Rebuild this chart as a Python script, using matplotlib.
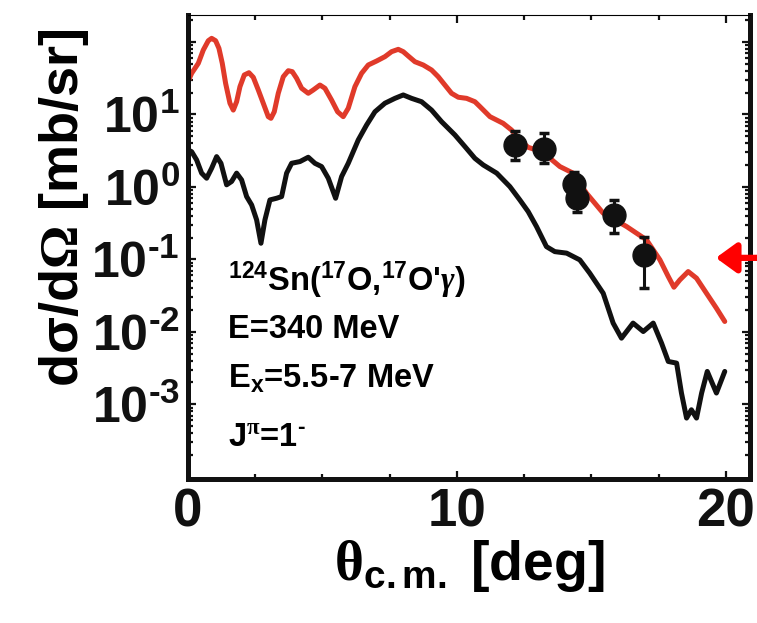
import numpy as np
import matplotlib
matplotlib.use("Agg")
import matplotlib.pyplot as plt
from matplotlib.ticker import LogLocator, FixedLocator, NullFormatter

plt.rcParams['font.family'] = ['Liberation Sans', 'DejaVu Sans']
plt.rcParams['font.weight'] = 'bold'
plt.rcParams['mathtext.fontset'] = 'custom'
plt.rcParams['mathtext.rm'] = 'Liberation Serif'
plt.rcParams['mathtext.it'] = 'Liberation Serif:italic'
plt.rcParams['mathtext.bf'] = 'Liberation Sans:bold'
plt.rcParams['mathtext.sf'] = 'Liberation Sans:bold'
plt.rcParams['mathtext.default'] = 'bf'

# full calculation (red)
theta_red = [0.0, 0.136, 0.384, 0.570, 0.756, 0.880, 1.029, 1.152, 1.276, 1.400, 1.561,
             1.685, 1.809, 1.933, 2.094, 2.268, 2.429, 2.615, 2.800, 2.986, 3.086,
             3.209, 3.358, 3.544, 3.730, 3.879, 4.040, 4.226, 4.473, 4.659, 4.907,
             5.093, 5.341, 5.564, 5.774, 5.960, 6.208, 6.456, 6.704, 7.014, 7.323,
             7.571, 7.819, 8.005, 8.191, 8.439, 8.748, 9.058, 9.306, 9.554, 9.802,
             10.05, 10.36, 10.67, 10.86, 11.23, 11.72, 12.03, 12.34, 12.65, 12.96,
             13.39, 13.83, 14.32, 14.82, 15.44, 16.31, 17.05, 17.55, 17.86, 18.07,
             18.29, 18.60, 18.91, 19.28, 19.65, 19.96]
xs_red = [28.3, 37.0, 50.8, 77.6, 104.2, 112.5, 104.2, 81.9, 50.8, 26.9, 14.3,
          11.5, 15.0, 24.2, 35.1, 37.7, 32.6, 21.8, 14.3, 9.33, 8.85,
          10.9, 19.6, 33.2, 40.2, 39.0, 31.6, 23.0, 19.6, 21.8, 25.5,
          23.0, 15.8, 10.9, 9.33, 12.2, 24.2, 37.0, 48.2, 54.7, 62.8,
          73.6, 79.3, 73.6, 64.1, 53.5, 48.2, 41.1, 33.2, 25.5, 19.6,
          17.3, 16.7, 15.0, 12.8, 9.33, 7.55, 6.11, 4.45, 3.52, 3.24,
          2.62, 1.91, 1.55, 0.818, 0.434, 0.284, 0.186, 0.0984, 0.0579, 0.0413,
          0.0521, 0.0679, 0.0550, 0.0341, 0.0212, 0.0139]

# direct excitation only (black)
theta_blk = [0.0, 0.136, 0.322, 0.508, 0.694, 0.880, 1.066, 1.227, 1.437, 1.623, 1.809,
             1.995, 2.181, 2.367, 2.553, 2.714, 2.862, 3.048, 3.296, 3.482, 3.668,
             3.854, 4.164, 4.473, 4.721, 4.969, 5.217, 5.490, 5.713, 5.960, 6.332,
             6.642, 6.952, 7.323, 7.695, 8.005, 8.315, 8.687, 9.058, 9.430, 9.926,
             10.30, 10.67, 10.98, 11.48, 11.97, 12.34, 12.65, 12.96, 13.33, 13.64,
             14.08, 14.57, 14.94, 15.44, 15.81, 16.12, 16.55, 16.93, 17.30, 17.61,
             17.86, 18.17, 18.35, 18.54, 18.72, 18.91, 19.10, 19.31, 19.65, 19.96]
xs_blk = [3.24, 3.07, 2.36, 1.55, 1.32, 1.81, 2.62, 2.12, 1.07, 1.19, 1.55,
          1.25, 0.736, 0.565, 0.351, 0.167, 0.351, 0.662, 0.698, 0.736, 1.55,
          2.12, 2.24, 2.57, 2.12, 1.91, 1.32, 0.698, 1.39, 2.12, 4.45,
          7.16, 10.9, 14.3, 16.7, 18.6, 16.7, 15.0, 11.5, 7.96, 5.22,
          3.60, 2.48, 2.01, 1.55, 1.01, 0.662, 0.457, 0.284, 0.150, 0.128,
          0.122, 0.0984, 0.0645, 0.0341, 0.0132, 0.00818, 0.0132, 0.0101, 0.0132, 0.00698,
          0.00390, 0.00370, 0.00143, 0.000645, 0.00084, 0.000645, 0.00143, 0.00284, 0.00143, 0.00284]

# measured points with error limits
theta_exp = [12.16, 13.23, 14.35, 14.46, 15.84, 16.95]
xs_exp = [3.8, 3.34, 1.1, 0.705, 0.41, 0.115]
xs_lo = [2.36, 2.14, 0.75, 0.452, 0.232, 0.0404]
xs_hi = [5.92, 5.56, 1.61, 1.03, 0.662, 0.204]

ytick_vals = [1e-3, 1e-2, 1e-1, 1e0, 1e1, 1e2]
ytick_text = ['$10^{\u20103}$', '$10^{\u20102}$', '$10^{\u20101}$', '$10^{0}$', '$10^{1}$', '']

fig = plt.figure(figsize=(7.57, 6.23), dpi=100)
ax = fig.add_axes([0.2483, 0.2311, 0.7425, 0.7448])

ax.plot(theta_red, xs_red, color='#e03a2a', lw=3.6, solid_joinstyle='round',
        solid_capstyle='round')
ax.plot(theta_blk, xs_blk, color='#111111', lw=3.6, solid_joinstyle='round',
        solid_capstyle='round')

yerr = [np.array(xs_exp) - np.array(xs_lo), np.array(xs_hi) - np.array(xs_exp)]
ax.errorbar(theta_exp, xs_exp, yerr=yerr, fmt='o', color='#111111', ms=16.5,
            elinewidth=2.2, capsize=3.5, capthick=2.5, zorder=5)

ax.set_yscale('log')
ax.set_xlim(0, 20.9)
ax.set_ylim(9.3e-5, 236)

ax.yaxis.set_major_locator(FixedLocator(ytick_vals))
ax.set_yticklabels(ytick_text)
ax.yaxis.set_minor_locator(LogLocator(base=10, subs=np.arange(2, 10), numticks=20))
ax.yaxis.set_minor_formatter(NullFormatter())
ax.set_xticks([0, 10, 20])
ax.set_xticks([2.5, 5, 7.5, 12.5, 15, 17.5], minor=True)

ax.tick_params(which='both', direction='in', top=True, right=True, width=1.6, colors='#111111')
ax.tick_params(which='major', length=5.5, labelsize=36, pad=6)
ax.tick_params(which='minor', length=3.8)
ax.tick_params(axis='x', which='major', labelsize=38, pad=6)

for side in ['left', 'right', 'bottom']:
    ax.spines[side].set_linewidth(3.6)
    ax.spines[side].set_color('#111111')
ax.spines['top'].set_linewidth(0.8)

ax.set_ylabel(r'd$\sigma$/d$\mathrm{\Omega}$ [mb/sr]', fontsize=39, fontweight='bold')
ax.yaxis.set_label_coords(-0.172, 0.585)
ax.set_xlabel(r'$\mathrm{\theta}_{c.m.}$ [deg]', fontsize=40, fontweight='bold')
ax.xaxis.set_label_coords(0.50, -0.128)

tx = 0.071
fs = 23.5
ax.text(tx, 0.405, r"$^{124}$Sn($^{17}$O,$^{17}$O'$\mathit{\gamma}$)", transform=ax.transAxes,
        fontsize=fs, va='baseline', ha='left')
ax.text(tx, 0.305, 'E=340 MeV', transform=ax.transAxes, fontsize=fs, va='baseline')
ax.text(tx, 0.197, r'E$_x$=5.5-7 MeV', transform=ax.transAxes, fontsize=fs, va='baseline')
ax.text(tx, 0.068, 'J$^{\\mathrm{\\pi}}$=1$^{\u2010}$', transform=ax.transAxes, fontsize=fs,
        va='baseline')

# arrow marking 0.1 mb/sr
ax.annotate('', xy=(19.63, 0.105), xycoords='data',
            xytext=(1.0, 0.105), textcoords=('figure fraction', 'data'),
            arrowprops=dict(arrowstyle='-|>,head_length=0.62,head_width=0.45',
                            mutation_scale=20, lw=4.5, color='red', shrinkA=0, shrinkB=0),
            annotation_clip=False, zorder=10)

fig.savefig('out.png', dpi=100)
